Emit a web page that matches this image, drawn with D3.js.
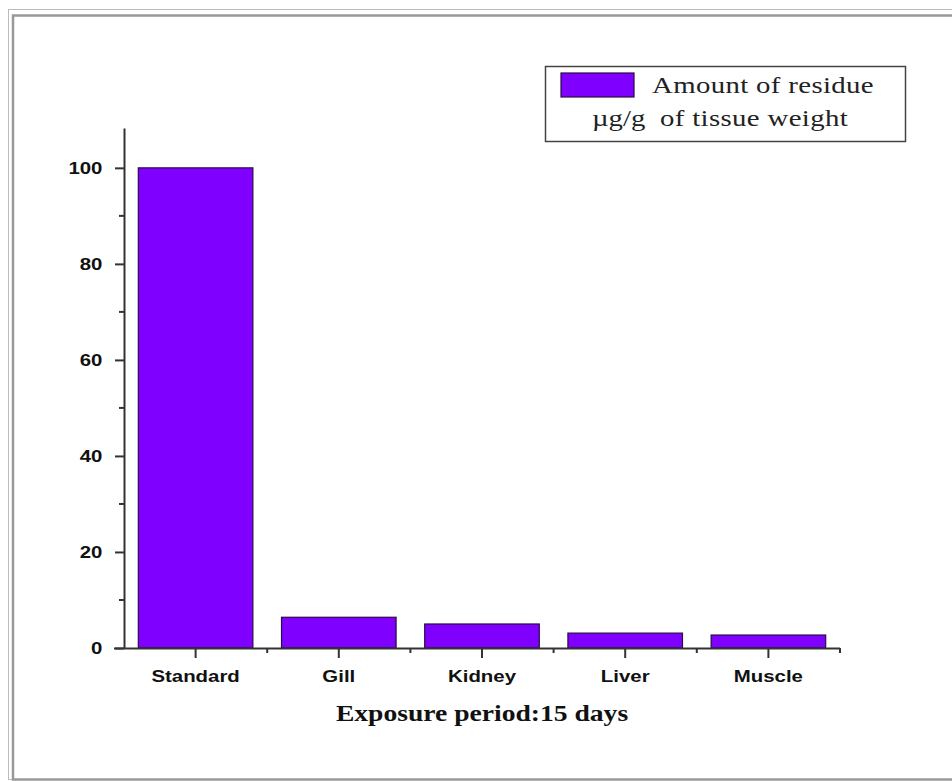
<!DOCTYPE html>
<html>
<head>
<meta charset="utf-8">
<script src="https://cdn.jsdelivr.net/npm/d3@7"></script>
<style>
  body { margin: 0; background: #fff; }
  .tick text { font-family: "Liberation Sans", Arial, sans-serif; font-weight: bold; font-size: 17px; fill: #111; }
</style>
</head>
<body>
<div id="chart"></div>
<script>
/* Residue bar chart */

const categories = ["Standard", "Gill", "Kidney", "Liver", "Muscle"];
const residue = [100, 6.4, 5.0, 3.1, 2.7];
const yTicks = [0, 20, 40, 60, 80, 100];
const yMinor = [10, 30, 50, 70, 90];
const legendLines = ["Amount of residue", "\u00b5g/g", "of tissue weight"];
const xTitle = "Exposure period:15 days";

const width = 952, height = 781,
    margin = ({ top: 128, right: 112, bottom: 133, left: 124 });

const svg = d3.select("#chart")
    .append("svg")
    .attr("width", width)
    .attr("height", height);

// picture frame
svg.append("rect").attr("x", 8.5).attr("y", 9.5).attr("width", 960).attr("height", 770)
    .attr("fill", "none").attr("stroke", "#bbb").attr("stroke-width", 1);
svg.append("rect").attr("x", 13).attr("y", 15.5).attr("width", 960).attr("height", 764)
    .attr("fill", "none").attr("stroke", "#999").attr("stroke-width", 2.5);

let x = d3.scaleBand()
    .domain(categories)
    .range([margin.left, width - margin.right])
    .paddingInner(0.2)
    .paddingOuter(0.1);

let y = d3.scaleLinear()
    .domain([0, 108.3])
    .range([height - margin.bottom, margin.top]);

// bars
svg.selectAll("rect.bar")
    .data(categories)
    .join("rect")
    .attr("class", "bar")
    .attr("x", d => x(d))
    .attr("width", x.bandwidth())
    .attr("y", (d, i) => y(residue[i]))
    .attr("height", (d, i) => y(0) - y(residue[i]))
    .attr("fill", "#7f00ff")
    .attr("stroke", "#2a0a45")
    .attr("stroke-width", 1.2);

// x axis
let xAxis = svg.append("g")
    .attr("transform", `translate(0,${y(0)})`)
    .call(d3.axisBottom(x).tickSize(10).tickSizeOuter(0).tickPadding(12));
xAxis.select(".domain").attr("d", `M${margin.left - 10},0.5H${width - margin.right}`)
    .attr("stroke", "#333").attr("stroke-width", 2);
xAxis.selectAll(".tick line").attr("stroke", "#333").attr("stroke-width", 2);
xAxis.selectAll(".tick text").attr("transform", "scale(1.2,1)");

// minor ticks at band edges
let step = x.step();
let edges = categories.map((d, i) => x(d) + x.bandwidth() / 2 + step / 2);
xAxis.selectAll(".minor")
    .data(edges)
    .join("line")
    .attr("class", "minor")
    .attr("x1", d => d).attr("x2", d => d)
    .attr("y1", 0).attr("y2", 5)
    .attr("stroke", "#333").attr("stroke-width", 2);

// y axis
let yAxis = svg.append("g")
    .attr("transform", `translate(${margin.left},0)`)
    .call(d3.axisLeft(y).tickValues(yTicks).tickSize(9).tickSizeOuter(0).tickPadding(9));
yAxis.select(".domain").attr("stroke", "#333").attr("stroke-width", 2);
yAxis.selectAll(".tick line").attr("stroke", "#333").attr("stroke-width", 2);
yAxis.selectAll(".tick text").attr("transform", "scale(1.2,1)");

yAxis.selectAll(".minor")
    .data(yMinor)
    .join("line")
    .attr("class", "minor")
    .attr("x1", -5).attr("x2", 0)
    .attr("y1", d => y(d)).attr("y2", d => y(d))
    .attr("stroke", "#333").attr("stroke-width", 2);

// x axis title
svg.append("text")
    .attr("transform", `translate(${(margin.left + width - margin.right) / 2},721) scale(1.2,1)`)
    .attr("text-anchor", "middle")
    .attr("font-family", "Liberation Serif, Times New Roman, serif")
    .attr("font-weight", "bold")
    .attr("font-size", 23)
    .attr("fill", "#111")
    .text(xTitle);

// legend
let legend = svg.append("g");
legend.append("rect")
    .attr("x", 545.5).attr("y", 66.5).attr("width", 360).attr("height", 75)
    .attr("fill", "#fff").attr("stroke", "#444").attr("stroke-width", 1.5);
legend.append("rect")
    .attr("x", 561).attr("y", 73).attr("width", 73).attr("height", 24)
    .attr("fill", "#7f00ff").attr("stroke", "#2a0a45").attr("stroke-width", 1.2);
legend.append("text")
    .attr("transform", "translate(652,93) scale(1.2,1)")
    .attr("font-family", "Liberation Serif, Times New Roman, serif")
    .attr("font-size", 24)
    .attr("letter-spacing", 0.3)
    .attr("fill", "#222")
    .text(legendLines[0]);
legend.append("text")
    .attr("transform", "translate(592,126) scale(1.2,1)")
    .attr("font-family", "Liberation Serif, Times New Roman, serif")
    .attr("font-size", 24)
    .attr("fill", "#222")
    .text(legendLines[1]);
legend.append("text")
    .attr("transform", "translate(660,126) scale(1.2,1)")
    .attr("font-family", "Liberation Serif, Times New Roman, serif")
    .attr("font-size", 24)
    .attr("letter-spacing", 0.3)
    .attr("fill", "#222")
    .text(legendLines[2]);
</script>
</body>
</html>
